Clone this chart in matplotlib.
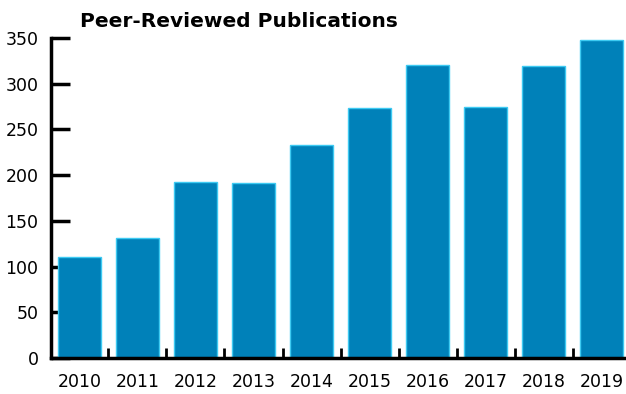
import matplotlib
matplotlib.use("Agg")
import matplotlib.pyplot as plt
import numpy as np

years = ["2010", "2011", "2012", "2013", "2014", "2015", "2016", "2017", "2018", "2019"]
publications = [110, 131, 192, 191, 233, 273, 320, 274, 319, 348]
y_ticks = [0, 50, 100, 150, 200, 250, 300, 350]

plt.rcParams["font.family"] = ["DejaVu Sans"]

fig = plt.figure(figsize=(6.26, 3.94), dpi=100)
ax = fig.add_axes([51 / 626, 36 / 394, 575 / 626, 320 / 394])

x = np.arange(len(years))
ax.bar(x, publications, width=0.73, color="#0081b9", edgecolor="#3dcaf2", linewidth=1.0, zorder=2)

ax.set_xlim(-0.49, 9.42)
ax.set_ylim(0, 350)

ax.set_yticks(y_ticks)
ax.set_yticklabels([str(v) for v in y_ticks])
ax.tick_params(axis="y", direction="in", length=14, width=2.5, pad=9, labelsize=12.5)

ax.set_xticks(x)
ax.set_xticklabels(years)
ax.tick_params(axis="x", length=0, pad=11, labelsize=12.5)
ax.set_xticks(x[:-1] + 0.5, minor=True)
ax.tick_params(axis="x", which="minor", direction="in", length=7, width=2)

for side in ("top", "right"):
    ax.spines[side].set_visible(False)
for side in ("left", "bottom"):
    ax.spines[side].set_linewidth(2.5)
    ax.spines[side].set_zorder(3)

fig.text(80 / 626, 1 - 27 / 394, "Peer-Reviewed Publications", fontsize=14.5,
         fontweight="bold", ha="left", va="baseline")

fig.savefig("out.png", dpi=100)
